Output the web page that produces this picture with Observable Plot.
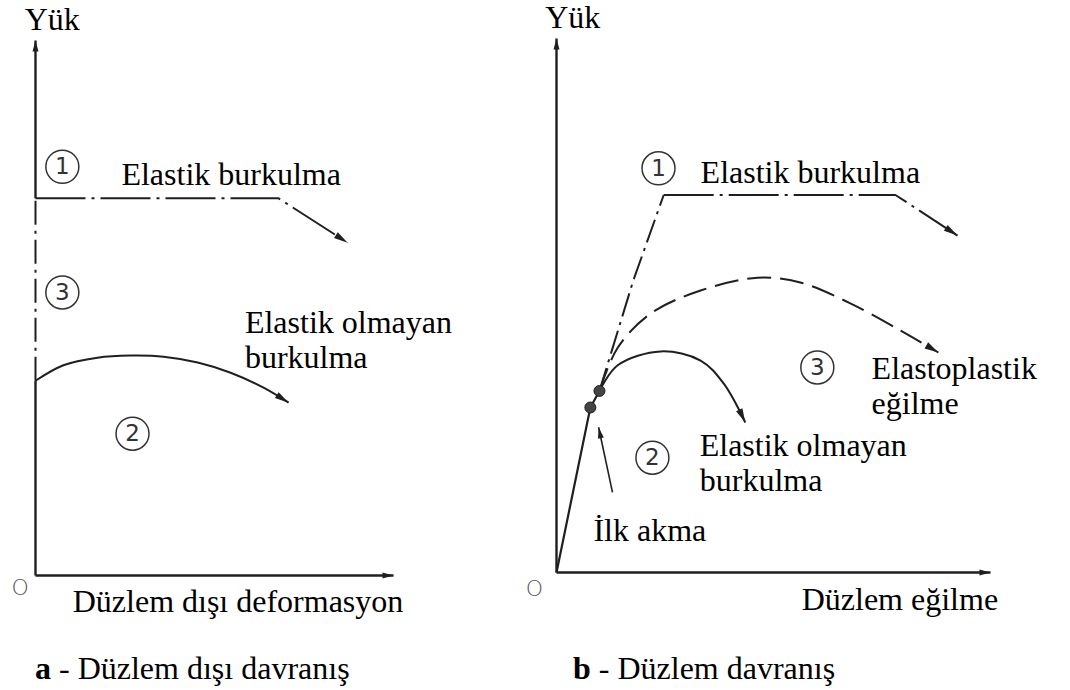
<!DOCTYPE html>
<html>
<head>
<meta charset="utf-8">
<script src="https://cdn.jsdelivr.net/npm/d3@7"></script>
<script src="https://cdn.jsdelivr.net/npm/@observablehq/plot@0.6"></script>
<style>
  html, body { margin: 0; padding: 0; background: #fff; }
  #figure { position: relative; width: 1070px; height: 690px; overflow: hidden;
            font-family: 'Liberation Serif', 'Times New Roman', serif; }
  .panel { position: absolute; top: 0; }
  .caption { position: absolute; top: 653px; font-size: 32px; line-height: 30px;
             color: #000; white-space: nowrap; font-family: 'Liberation Serif', serif; }
</style>
</head>
<body>
<div id="figure"></div>
<script>
// Units: horizontal = deformation (0–100), vertical = load (0–100), schematic.

// ---------- (a) out-of-plane behaviour ----------
const aAxisX = [[0, 0], [100, 0]];
const aAxisY = [[0, 70.5], [0, 100]];
const aElasticRise = [[0, 36.4], [0, 70.5]];                                  // curve 1 (and 3), rising
const aElasticPlateau = [[0, 70.5], [67.9, 70.5], [87.2, 62.2]];              // curve 1, buckling
const aLoading = [[0, 0], [0, 36.4]];
const aInelastic = [[0, 36.4], [7.8, 39.3], [17.3, 40.7], [26.5, 41.1], [35.8, 40.9],
                    [45.3, 39.8], [54.5, 37.9], [63.7, 35.1], [70.7, 32.3]];   // curve 2
const aRegions = [
  {n: "1", d: 7.5, p: 76.4},
  {n: "3", d: 7.5, p: 52.9},
  {n: "2", d: 27.1, p: 26.5}
];
const aLabels = [
  {t: "Yük", d: -3.0, p: 102.0},
  {t: "Elastik burkulma", d: 24.0, p: 72.9},
  {t: "Elastik olmayan", d: 58.5, p: 45.4},
  {t: "burkulma", d: 58.5, p: 38.7},
  {t: "Düzlem dışı deformasyon", d: 10.4, p: -6.9}
];
const aOrigin = [{t: "O", d: -4.3, p: -2.4}];

// ---------- (b) in-plane behaviour ----------
const bAxisX = [[0, 0], [100, 0]];
const bAxisY = [[0, 0], [0, 100]];
const bElastic = [[0, 0], [7.8, 30.9], [9.9, 34.0]];
const bElasticRise = [[9.9, 34.0], [17.7, 54.7], [24.7, 70.7]];               // curve 1, rising
const bElasticPlateau = [[24.7, 70.7], [78.1, 70.7], [92.4, 63.1]];           // curve 1, buckling
const bElastoplastic = [[9.9, 34.0], [14.1, 42.1], [21.7, 48.5], [33.2, 52.8], [46.3, 55.2],
                        [56.2, 54.3], [67.7, 50.4], [79.3, 45.3], [88.0, 41.2]];               // curve 3
const bInelastic = [[9.9, 34.0], [14.1, 38.8], [24.0, 41.4], [33.2, 39.7], [38.5, 35.4], [43.5, 28.1]]; // curve 2
const bYieldPoints = [[7.8, 30.9], [9.9, 34.0]];
const bYieldPointer = [[12.9, 15.0], [9.7, 27.2]];
const bRegions = [
  {n: "1", d: 23.5, p: 75.7},
  {n: "2", d: 22.1, p: 21.5},
  {n: "3", d: 60.1, p: 38.4}
];
const bLabels = [
  {t: "Yük", d: -2.6, p: 102.0},
  {t: "Elastik burkulma", d: 33.2, p: 73.0},
  {t: "Elastoplastik", d: 72.6, p: 36.3},
  {t: "eğilme", d: 72.6, p: 29.6},
  {t: "Elastik olmayan", d: 33.0, p: 21.9},
  {t: "burkulma", d: 33.0, p: 15.2},
  {t: "İlk akma", d: 8.5, p: 5.9},
  {t: "Düzlem eğilme", d: 56.5, p: -7.1}
];
const bOrigin = [{t: "O", d: -5.1, p: -3.0}];

const INK = "#1f1f1f";
const SERIF = "'Liberation Serif', 'Times New Roman', serif";
const SANS = "'DejaVu Sans', sans-serif";
const DASH_DOT_LONG = "50,6,3,6";
const DASH_DOT_SHORT = "24,6,3,6";
const DASHED = "24,9";

// narrow filled arrowhead, tip at the end of the path
function headMarker(len, half) {
  return (color) => {
    const m = d3.create("svg:marker")
      .attr("viewBox", `${-len} ${-half} ${len} ${2 * half}`)
      .attr("markerUnits", "userSpaceOnUse")
      .attr("markerWidth", len)
      .attr("markerHeight", 2 * half)
      .attr("refX", 0).attr("refY", 0)
      .attr("orient", "auto")
      .attr("overflow", "visible");
    m.append("path")
      .attr("d", `M${-len},${-half}L0,0L${-len},${half}Z`)
      .attr("fill", color).attr("stroke", "none");
    return m.node();
  };
}

const px = (p) => p[0], py = (p) => p[1];

function curve(data, opts, end) {
  return Plot.line(data, {x: px, y: py, stroke: INK, strokeWidth: 2,
    strokeLinecap: "butt", markerEnd: end, ...opts});
}

function regionMarks(regions) {
  return [
    Plot.dot(regions, {x: "d", y: "p", r: 16.5, stroke: "#333", strokeWidth: 1.5, fill: "none"}),
    Plot.text(regions, {x: "d", y: "p", text: "n", fontSize: 23, fill: "#333",
      fontFamily: SANS})
  ];
}

function labelMarks(labels, origin) {
  return [
    Plot.text(labels, {x: "d", y: "p", text: "t", textAnchor: "start", lineAnchor: "bottom",
      fontSize: 32, fontFamily: SERIF, fill: "#000"}),
    Plot.text(origin, {x: "d", y: "p", text: "t", fontSize: 22, fill: "#555",
      fontFamily: SANS, fontWeight: 300})
  ];
}

function panelA(head, small) {
  return Plot.plot({
    width: 530, height: 640,
    marginLeft: 35, marginRight: 137, marginTop: 40, marginBottom: 65,
    x: {domain: [0, 100], axis: null},
    y: {domain: [0, 100], axis: null},
    style: {background: "transparent", overflow: "visible"},
    marks: [
      curve(aAxisX, {strokeWidth: 2.4}, small),
      curve(aAxisY, {strokeWidth: 2.4}, small),
      curve(aLoading, {strokeWidth: 2.4}),
      curve(aElasticRise, {strokeDasharray: DASH_DOT_SHORT}),
      curve(aElasticPlateau, {strokeDasharray: DASH_DOT_LONG}, head),
      curve(aInelastic, {curve: "catmull-rom"}, head),
      ...regionMarks(aRegions),
      ...labelMarks(aLabels, aOrigin)
    ]
  });
}

function panelB(head, small) {
  return Plot.plot({
    width: 550, height: 640,
    marginLeft: 36, marginRight: 80, marginTop: 38, marginBottom: 68,
    x: {domain: [0, 100], axis: null},
    y: {domain: [0, 100], axis: null},
    style: {background: "transparent", overflow: "visible"},
    marks: [
      curve(bAxisX, {strokeWidth: 2.4}, small),
      curve(bAxisY, {strokeWidth: 2.4}, small),
      curve(bElastic, {strokeWidth: 2.2}),
      curve(bElasticRise, {strokeDasharray: DASH_DOT_SHORT}),
      curve(bElasticPlateau, {strokeDasharray: DASH_DOT_LONG}, head),
      curve(bElastoplastic, {strokeDasharray: DASHED, curve: "catmull-rom"}, head),
      curve(bInelastic, {curve: "catmull-rom"}, head),
      curve(bYieldPointer, {strokeWidth: 1.6}, small),
      Plot.dot(bYieldPoints, {x: px, y: py, r: 5.5, fill: "#444", stroke: INK, strokeWidth: 1}),
      ...regionMarks(bRegions),
      ...labelMarks(bLabels, bOrigin)
    ]
  });
}

function build(head, small) {
  return [panelA(head, small), panelB(head, small)];
}

let charts;
try {
  charts = build(headMarker(14, 3.5), headMarker(11, 3));
} catch (e) {
  charts = build("arrow", "arrow");
}

const fig = document.getElementById("figure");
const lefts = [0, 520];
charts.forEach((svg, i) => {
  svg.classList.add("panel");
  svg.style.left = lefts[i] + "px";
  fig.appendChild(svg);
});

const captions = [
  {html: "<b>a</b> - Düzlem dışı davranış", left: 35},
  {html: "<b>b</b> - Düzlem davranış", left: 573}
];
for (const c of captions) {
  const div = document.createElement("div");
  div.className = "caption";
  div.style.left = c.left + "px";
  div.innerHTML = c.html;
  fig.appendChild(div);
}
</script>
</body>
</html>
